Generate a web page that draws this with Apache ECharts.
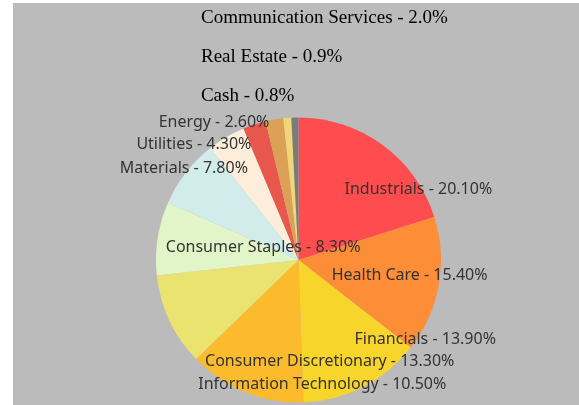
<!DOCTYPE html>
<html>
<head>
<meta charset="utf-8">
<script src="https://cdn.jsdelivr.net/npm/echarts@6/dist/echarts.min.js"></script>
<style>
  html, body { margin: 0; padding: 0; background: #ffffff; }
  #chart { position: absolute; left: 13px; top: 3px; width: 566px; height: 402px; background: #bbbbbb; }
</style>
</head>
<body>
<div id="chart"></div>
<script>
// Sector weights (%), clockwise from 12 o'clock
const sectors = [
  'Industrials', 'Health Care', 'Financials', 'Consumer Discretionary',
  'Information Technology', 'Consumer Staples', 'Materials', 'Utilities',
  'Energy', 'Communication Services', 'Real Estate', 'Cash'
];
const weights = [20.1, 15.4, 13.9, 13.3, 10.5, 8.3, 7.8, 4.3, 2.6, 2.0, 0.9, 0.8];

// Small sectors whose captions are listed above the pie
const headlineSectors = ['Communication Services', 'Real Estate', 'Cash'];

const sliceColors = [
  '#ff4d4f', '#fd8d36', '#f7d52b', '#fbbb2d',
  '#ebe36f', '#e2f5c9', '#d2ebeb', '#fdeedb',
  '#e8574b', '#dca056', '#f1d676', '#7b7b7b'
];

// Caption shifts from each slice's inner anchor point
const captionShift = [
  [76, -11], [38, 2], [93, 13.5], [59, 33],
  [91, 93], [38, -1], [-56, -46], [-67, -51.6],
  [-61.5, -67], [38.5, -169], [-21, -128.5], [-49, -89.5]
];

function caption(name, value) {
  const digits = headlineSectors.includes(name) ? 1 : 2;
  return name + ' - ' + value.toFixed(digits) + '%';
}

const pieData = sectors.map((name, i) => {
  const headline = headlineSectors.includes(name);
  return {
    name: name,
    value: weights[i],
    itemStyle: { color: sliceColors[i] },
    label: {
      offset: captionShift[i],
      fontFamily: headline ? '"Liberation Serif", "Times New Roman", serif' : '"Noto Sans", sans-serif',
      fontSize: headline ? 19 : 16,
      color: headline ? '#000000' : '#333333'
    }
  };
});

const chart = echarts.init(document.getElementById('chart'), null, { renderer: 'canvas' });
chart.setOption({
  animation: false,
  backgroundColor: '#bbbbbb',
  series: [{
    type: 'pie',
    center: [285.5, 257],
    radius: [0, 142.5],
    startAngle: 90,
    clockwise: true,
    avoidLabelOverlap: false,
    data: pieData,
    itemStyle: { borderWidth: 0 },
    label: {
      show: true,
      position: 'inside',
      formatter: p => caption(p.name, p.value)
    },
    labelLine: { show: false },
    emphasis: { disabled: true }
  }]
});
</script>
</body>
</html>
